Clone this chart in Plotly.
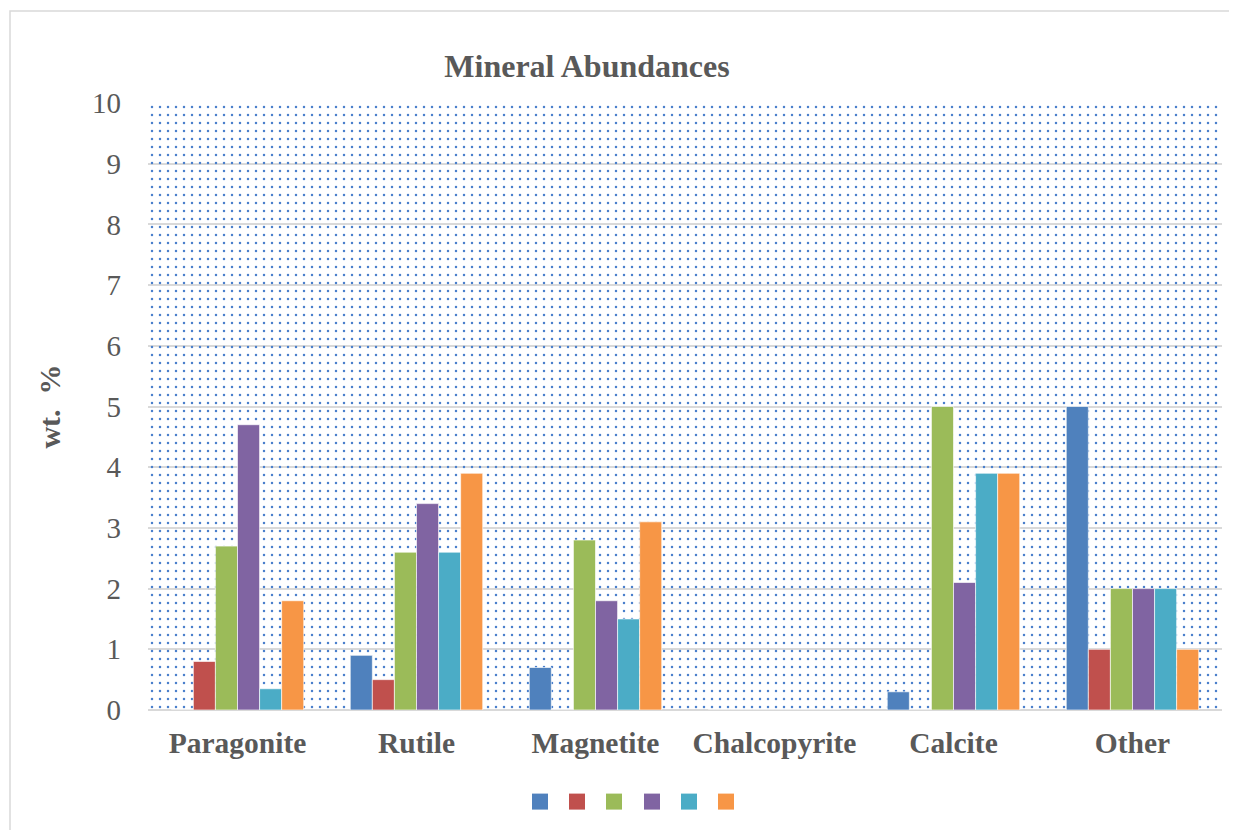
import plotly.graph_objects as go

categories = ["Paragonite", "Rutile", "Magnetite", "Chalcopyrite", "Calcite", "Other"]
series_names = ["", "", "", "", "", ""]
series_values = [
    [0.0, 0.9, 0.7, 0.0, 0.3, 5.0],    # blue
    [0.8, 0.5, 0.0, 0.0, 0.0, 1.0],    # red
    [2.7, 2.6, 2.8, 0.0, 5.0, 2.0],    # green
    [4.7, 3.4, 1.8, 0.0, 2.1, 2.0],    # purple
    [0.35, 2.6, 1.5, 0.0, 3.9, 2.0],   # cyan
    [1.8, 3.9, 3.1, 0.0, 3.9, 1.0],    # orange
]
colors = ["#4F81BD", "#C0504D", "#9BBB59", "#8064A2", "#4BACC6", "#F79646"]
y_range = [0, 10]
y_ticks = [0, 1, 2, 3, 4, 5, 6, 7, 8, 9, 10]

OFF = 8  # page body margin
W, H = 1237 - 2 * OFF, 838 - 2 * OFF
L = 148 - OFF
T = 103 - OFF
R = W - (1222 - OFF)
B = H - (710 - OFF)
pw = W - L - R
ph = H - T - B

def px_x(x):
    return (x - OFF - L) / pw

def px_y(y):
    return 1 - (y - OFF - T) / ph

SERIF = "Liberation Serif, Times New Roman, serif"
GREY = "#595959"

# legend square centres (reference pixels)
legend_centres = [540, 577, 614, 652, 689, 726]

fig = go.Figure()

# dotted plot-area background (pattern fill on a hidden numeric axis)
fig.add_trace(go.Bar(
    x=[0.5], y=[y_range[1]], width=[1.0], xaxis="x", yaxis="y",
    marker=dict(color="rgba(0,0,0,0)", line=dict(width=0),
                pattern=dict(shape=".", size=8, solidity=0.075,
                             fgcolor="#4a7fcc", bgcolor="rgba(0,0,0,0)",
                             fillmode="replace")),
    showlegend=False, hoverinfo="skip",
))

for vals, col, name in zip(series_values, colors, series_names):
    fig.add_trace(go.Bar(
        x=categories, y=vals, xaxis="x2", yaxis="y",
        marker=dict(color=col, line=dict(width=0.8, color="rgba(255,255,255,0.8)")),
        showlegend=False, name=name,
    ))

legends = {}
for i, (col, name, cx) in enumerate(zip(colors, series_names, legend_centres)):
    key = "legend" if i == 0 else f"legend{i + 1}"
    fig.add_trace(go.Scatter(
        x=[None], y=[None], mode="markers", xaxis="x2", yaxis="y",
        marker=dict(symbol="square", size=16, color=col),
        name=name, showlegend=True, legend=key,
    ))
    legends[key] = dict(orientation="h", x=px_x(cx - 20), xanchor="left",
                        y=px_y(802), yanchor="middle", itemwidth=30,
                        font=dict(family=SERIF, size=14, color=GREY),
                        bgcolor="rgba(0,0,0,0)", borderwidth=0)

fig.update_layout(
    width=W, height=H,
    margin=dict(l=L, r=R, t=T, b=B, autoexpand=False),
    paper_bgcolor="white", plot_bgcolor="white",
    barmode="group", bargap=0.26, bargroupgap=0.0,
    title=dict(text="Mineral Abundances", x=px_x(587), xref="paper",
               xanchor="center", y=1 - (66 - OFF) / H, yanchor="middle",
               font=dict(family=SERIF, size=32, color=GREY, weight="bold")),
    xaxis=dict(range=[0, 1], visible=False, showgrid=False, zeroline=False,
               fixedrange=True),
    xaxis2=dict(overlaying="x", anchor="y", side="bottom", type="category",
                showgrid=False, zeroline=False, showline=False,
                ticks="", ticklabelstandoff=12,
                tickfont=dict(family=SERIF, size=29.5, color=GREY, weight="bold")),
    yaxis=dict(range=y_range, tickvals=y_ticks, showgrid=True,
               gridcolor="#D9D9D9", gridwidth=1.5, zeroline=True,
               zerolinecolor="#D9D9D9", zerolinewidth=1.5,
               showline=False, ticks="", ticklabelstandoff=26,
               tickfont=dict(family=SERIF, size=29, color=GREY),
               title=dict(text="wt.&nbsp; %", standoff=22,
                          font=dict(family=SERIF, size=30, color=GREY, weight="bold"))),
    shapes=[dict(type="rect", xref="paper", yref="paper",
                 x0=px_x(10), x1=px_x(1245),
                 y0=px_y(845), y1=px_y(11),
                 line=dict(color="#D9D9D9", width=1.5), fillcolor="rgba(0,0,0,0)",
                 layer="below")],
    **legends,
)

fig.write_html("out.html")
